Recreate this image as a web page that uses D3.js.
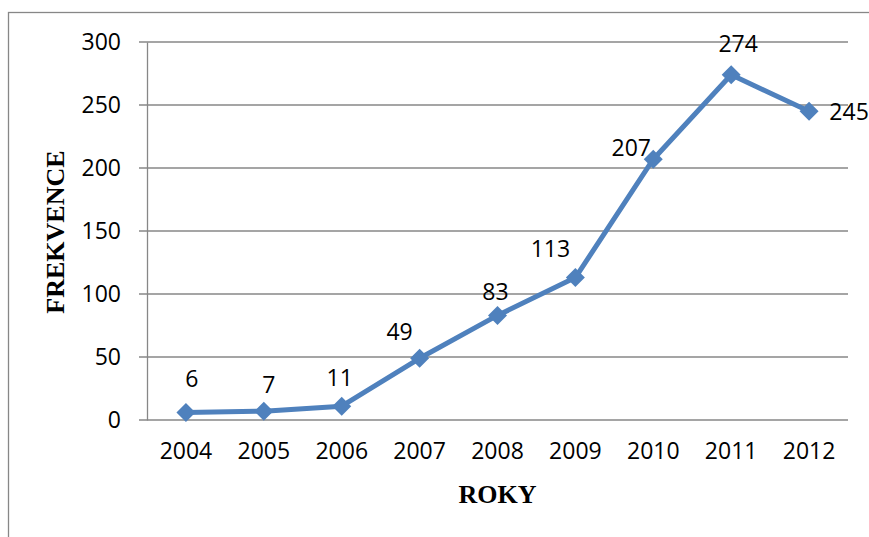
<!DOCTYPE html>
<html>
<head>
<meta charset="utf-8">
<script src="https://cdn.jsdelivr.net/npm/d3@7"></script>
<style>
  body { margin: 0; background: #fff; }
  .tick text { font-family: "Open Sans", sans-serif; font-size: 23px; fill: #000; }
</style>
</head>
<body>
<div class="chart-container"></div>
<script>
// data
const years = ['2004', '2005', '2006', '2007', '2008', '2009', '2010', '2011', '2012']
const counts = [6, 7, 11, 49, 83, 113, 207, 274, 245]
const yTicks = [0, 50, 100, 150, 200, 250, 300]
// where each data label sits relative to its point
const labelOffsets = [[6, -25], [5, -18], [-2, -20], [-20, -18], [-2, -15], [-25, -21], [-22, -3], [7, -23], [40, 9]]

const width = 869
const height = 537
const plot = { left: 147, right: 848, top: 42, bottom: 420 }
const gray = '#878787'
const blue = '#4f81bd'

const svg = d3.select('.chart-container')
  .append('svg')
  .attr('width', width)
  .attr('height', height)

// outer chart border (runs off the page right and bottom)
svg.append('rect')
  .attr('x', 8.5).attr('y', 12.5)
  .attr('width', 900).attr('height', 600)
  .attr('fill', 'none')
  .attr('stroke', gray)
  .attr('stroke-width', 1.3)

//! SCALES
const xScale = d3.scaleBand()
  .domain(years)
  .range([plot.left, plot.right])

const yScale = d3.scaleLinear()
  .domain([0, 300])
  .range([plot.bottom, plot.top])

//! GRID
svg.append('g')
  .selectAll('line')
  .data(yTicks)
  .enter()
  .append('line')
  .attr('x1', plot.left - 8)
  .attr('x2', plot.right)
  .attr('y1', d => yScale(d))
  .attr('y2', d => yScale(d))
  .attr('stroke', gray)
  .attr('stroke-width', 1.3)

//! AXES
const yAxis = d3.axisLeft(yScale)
  .tickValues(yTicks)
  .tickSize(0)
  .tickPadding(26)

svg.append('g')
  .attr('transform', `translate(${plot.left},0)`)
  .call(yAxis)
  .call(g => g.select('.domain').attr('stroke', gray).attr('stroke-width', 1.3))

const xAxis = d3.axisBottom(xScale)
  .tickSize(0)
  .tickPadding(23)

svg.append('g')
  .attr('transform', `translate(0,${plot.bottom})`)
  .call(xAxis)
  .call(g => g.select('.domain').remove())

// axis titles
svg.append('text')
  .attr('x', (plot.left + plot.right) / 2)
  .attr('y', 503)
  .attr('text-anchor', 'middle')
  .attr('font-family', '"Liberation Serif", "Times New Roman", serif')
  .attr('font-weight', 'bold')
  .attr('font-size', 26)
  .text('ROKY')

svg.append('text')
  .attr('transform', 'translate(64,232) rotate(-90)')
  .attr('text-anchor', 'middle')
  .attr('font-family', '"Liberation Serif", "Times New Roman", serif')
  .attr('font-weight', 'bold')
  .attr('font-size', 26)
  .text('FREKVENCE')

//! LINE
const cx = (d, i) => xScale(years[i]) + xScale.bandwidth() / 2
const cy = d => yScale(d)

svg.append('path')
  .datum(counts)
  .attr('d', d3.line().x(cx).y(cy))
  .attr('fill', 'none')
  .attr('stroke', blue)
  .attr('stroke-width', 5)
  .attr('stroke-linejoin', 'round')

// diamond markers
svg.append('g')
  .selectAll('path')
  .data(counts)
  .enter()
  .append('path')
  .attr('transform', (d, i) => `translate(${cx(d, i)},${cy(d)})`)
  .attr('d', 'M0,-9.5L9.5,0L0,9.5L-9.5,0Z')
  .attr('fill', blue)

// data labels
svg.append('g')
  .selectAll('text')
  .data(counts)
  .enter()
  .append('text')
  .attr('x', (d, i) => cx(d, i) + labelOffsets[i][0])
  .attr('y', (d, i) => cy(d) + labelOffsets[i][1])
  .attr('text-anchor', 'middle')
  .attr('font-family', '"Open Sans", sans-serif')
  .attr('font-size', 23)
  .text(d => d)
</script>
</body>
</html>
